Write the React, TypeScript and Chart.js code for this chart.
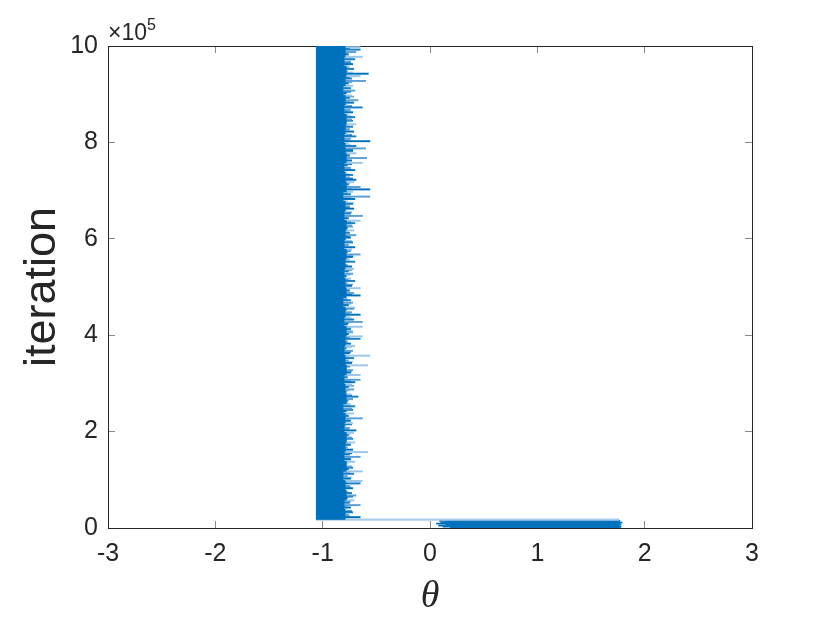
import { useEffect, useRef } from "react";
import { Chart, registerables } from "chart.js";

Chart.register(...registerables);

// ---- axes ----
const X_TICKS = [-3, -2, -1, 0, 1, 2, 3];
const Y_TICKS_E5 = [0, 2, 4, 6, 8, 10]; // ×10^5
const Y_EXPONENT = 5;
const THETA_MIN = -3;
const THETA_MAX = 3;
const ITER_MAX = 1000000;

// ---- upper band (iterations ~18k .. 1e6), theta around -1 ----
const coreLeft = -1.06;
const coreStartIter = 18000;
const coreStep = 20000;
const coreRight = [
  -0.79, -0.8, -0.78, -0.79, -0.81, -0.78, -0.8, -0.79, -0.78, -0.8,
  -0.79, -0.81, -0.78, -0.79, -0.8, -0.78, -0.79, -0.8, -0.79, -0.78,
  -0.8, -0.79, -0.81, -0.78, -0.79, -0.8, -0.79, -0.78, -0.8, -0.79,
  -0.78, -0.8, -0.79, -0.81, -0.78, -0.79, -0.8, -0.78, -0.79, -0.8,
  -0.79, -0.78, -0.8, -0.79, -0.81, -0.79, -0.78, -0.8, -0.79, -0.79,
];

// long excursions to the right
const spikeStartIter = 20000;
const spikeStep = 5000;
const spikeFrom = -0.81;
const spikeRight = [
  -0.65, -0.76, -0.72, -0.78, -0.74, -0.65, -0.75, -0.71, -0.77, -0.69, -0.73, -0.79, -0.72, -0.75,
  -0.65, -0.63, -0.74, -0.77, -0.71, -0.63, -0.76, -0.73, -0.78, -0.7, -0.74, -0.65, -0.75, -0.58,
  -0.72, -0.77, -0.74, -0.7, -0.78, -0.73, -0.76, -0.71, -0.69, -0.75, -0.79, -0.72, -0.74, -0.63,
  -0.76, -0.71, -0.78, -0.73, -0.7, -0.75, -0.77, -0.72, -0.67, -0.74, -0.78, -0.71, -0.76, -0.73,
  -0.7, -0.65, -0.77, -0.65, -0.74, -0.72, -0.78, -0.58, -0.73, -0.76, -0.71, -0.56, -0.75, -0.72,
  -0.78, -0.7, -0.74, -0.77, -0.65, -0.63, -0.76, -0.72, -0.74, -0.63, -0.77, -0.63, -0.71, -0.75,
  -0.65, -0.73, -0.78, -0.7, -0.76, -0.72, -0.74, -0.79, -0.65, -0.71, -0.75, -0.65, -0.73, -0.77,
  -0.7, -0.74, -0.78, -0.72, -0.76, -0.71, -0.73, -0.79, -0.7, -0.75, -0.72, -0.65, -0.77, -0.73,
  -0.7, -0.76, -0.72, -0.78, -0.74, -0.69, -0.75, -0.71, -0.77, -0.73, -0.7, -0.65, -0.76, -0.63,
  -0.74, -0.78, -0.71, -0.75, -0.72, -0.77, -0.7, -0.56, -0.74, -0.72, -0.56, -0.65, -0.76, -0.71,
  -0.69, -0.75, -0.72, -0.78, -0.7, -0.74, -0.77, -0.63, -0.73, -0.59, -0.75, -0.69, -0.72, -0.6,
  -0.69, -0.76, -0.56, -0.74, -0.69, -0.77, -0.71, -0.75, -0.72, -0.69, -0.78, -0.73, -0.7, -0.76,
  -0.72, -0.74, -0.63, -0.77, -0.71, -0.67, -0.75, -0.73, -0.78, -0.7, -0.74, -0.72, -0.76, -0.6,
  -0.73, -0.65, -0.575, -0.77, -0.71, -0.75, -0.72, -0.74, -0.7, -0.63, -0.76, -0.69, -0.65, -0.65,
];

// short fringe between the long excursions
const fringeStartIter = 20000;
const fringeStep = 10000;
const fringeRight = [
  -0.75, -0.73, -0.77, -0.74, -0.72, -0.76, -0.74, -0.78, -0.73, -0.75,
  -0.72, -0.76, -0.74, -0.73, -0.77, -0.75, -0.72, -0.74, -0.76, -0.73,
  -0.75, -0.77, -0.72, -0.74, -0.76, -0.73, -0.75, -0.71, -0.74, -0.77,
  -0.73, -0.75, -0.72, -0.76, -0.74, -0.73, -0.77, -0.75, -0.72, -0.74,
  -0.76, -0.73, -0.75, -0.71, -0.74, -0.77, -0.73, -0.75, -0.72, -0.76,
  -0.74, -0.73, -0.77, -0.75, -0.72, -0.74, -0.76, -0.73, -0.75, -0.77,
  -0.72, -0.74, -0.76, -0.73, -0.75, -0.71, -0.74, -0.77, -0.73, -0.75,
  -0.72, -0.76, -0.74, -0.73, -0.77, -0.75, -0.72, -0.74, -0.76, -0.73,
  -0.75, -0.77, -0.72, -0.74, -0.76, -0.73, -0.75, -0.71, -0.74, -0.77,
  -0.73, -0.75, -0.72, -0.76, -0.74, -0.73, -0.77, -0.75,
];

// ---- jump row (burn-in transition) ----
const jumpIter = 17500;
const jumpFrom = -1.06;
const jumpTo = 1.76;

// ---- lower band (iterations 0 .. ~17k), theta 0.1 .. 1.78 ----
const lowerStartIter = 0;
const lowerStep = 2000;
const lowerLeft = [0.19, 0.12, 0.08, 0.15, 0.06, 0.1, 0.14, 0.09];
const lowerRight = [1.77, 1.78, 1.76, 1.78, 1.77, 1.79, 1.76, 1.77];

const BLUE = "#0072BD";
const SPIKE_COLORS = ["#0072BD", "#5c9fd6", "#1a7fc4", "#9cc5ea"];
const FRINGE_COLORS = ["#6aa8db", "#0f78c0", "#a4cbeb"];
const AXIS = "#262626";
const TICK = "#8a8a8a";
const SANS = "'Liberation Sans', Arial, Helvetica, sans-serif";

function bins(start: number, step: number, lo: number[] | number, hi: number[]) {
  return hi.map((h, i) => ({
    y: start + step / 2 + step * i,
    x: [Array.isArray(lo) ? lo[i] : lo, h],
  }));
}

const exponentPlugin = {
  id: "exponentLabel",
  afterDraw(chart: any) {
    const { ctx, chartArea } = chart;
    ctx.save();
    ctx.fillStyle = AXIS;
    ctx.textBaseline = "alphabetic";
    ctx.textAlign = "left";
    ctx.font = `23px ${SANS}`;
    const base = "\u00d710";
    const x0 = chartArea.left;
    const y0 = chartArea.top - 6;
    ctx.fillText(base, x0, y0);
    const w = ctx.measureText(base).width;
    ctx.font = `16px ${SANS}`;
    ctx.fillText(String(Y_EXPONENT), x0 + w, y0 - 10);
    ctx.restore();
  },
};

export default function App() {
  const ref = useRef<HTMLCanvasElement | null>(null);

  useEffect(() => {
    document.body.style.margin = "0";
    const canvas = ref.current;
    if (!canvas) return;

    const gridInward = (len: number) => ({
      display: true,
      drawOnChartArea: false,
      drawTicks: true,
      offset: false,
      tickLength: -len,
      tickColor: TICK,
      tickWidth: 1,
    });
    const border = { display: true, color: AXIS, width: 1 };

    const chart = new Chart(canvas, {
      type: "bar",
      data: {
        datasets: [
          {
            label: "core",
            data: bins(coreStartIter, coreStep, coreLeft, coreRight) as any,
            backgroundColor: BLUE,
            borderWidth: 0,
            grouped: false,
            barThickness: 10,
          } as any,
          {
            label: "spikes",
            data: bins(spikeStartIter, spikeStep, spikeFrom, spikeRight) as any,
            backgroundColor: (c: any) => SPIKE_COLORS[c.dataIndex % SPIKE_COLORS.length],
            borderWidth: 0,
            grouped: false,
            barThickness: 1.3,
          } as any,
          {
            label: "fringe",
            data: bins(fringeStartIter, fringeStep, spikeFrom, fringeRight) as any,
            backgroundColor: (c: any) => FRINGE_COLORS[c.dataIndex % FRINGE_COLORS.length],
            borderWidth: 0,
            grouped: false,
            barThickness: 1.1,
          } as any,
          {
            label: "jump",
            data: [{ y: jumpIter, x: [jumpFrom, jumpTo] }] as any,
            backgroundColor: "#a9cdec",
            borderWidth: 0,
            grouped: false,
            barThickness: 1.6,
          } as any,
          {
            label: "burn-in",
            data: bins(lowerStartIter, lowerStep, lowerLeft, lowerRight) as any,
            backgroundColor: BLUE,
            borderWidth: 0,
            grouped: false,
            barThickness: 1.1,
          } as any,
        ],
      },
      options: {
        indexAxis: "y",
        responsive: false,
        animation: false,
        events: [],
        layout: { padding: { left: 0, right: 78, top: 46, bottom: 0 } },
        plugins: { legend: { display: false }, tooltip: { enabled: false } },
        scales: {
          x: {
            type: "linear",
            position: "bottom",
            min: THETA_MIN,
            max: THETA_MAX,
            offset: false,
            afterBuildTicks: (s: any) => {
              s.ticks = X_TICKS.map((v) => ({ value: v }));
            },
            afterFit: (s: any) => {
              s.height = 95;
            },
            grid: gridInward(7),
            border,
            ticks: {
              color: AXIS,
              font: { family: SANS, size: 25 },
              padding: 18,
              maxRotation: 0,
              callback: (v: any) => String(v),
            },
            title: {
              display: true,
              text: "\u03b8",
              color: AXIS,
              font: { family: "'Liberation Serif', 'DejaVu Serif', serif", size: 38, style: "italic", lineHeight: 1 },
              padding: { top: 0, bottom: 7 },
            },
          },
          y: {
            type: "linear",
            position: "left",
            min: 0,
            max: ITER_MAX,
            offset: false,
            afterBuildTicks: (s: any) => {
              s.ticks = Y_TICKS_E5.map((v) => ({ value: v * Math.pow(10, Y_EXPONENT) }));
            },
            afterFit: (s: any) => {
              s.width = 108;
            },
            grid: gridInward(7),
            border,
            ticks: {
              color: AXIS,
              font: { family: SANS, size: 25 },
              padding: 17,
              callback: (v: any) => String(Math.round(Number(v) / Math.pow(10, Y_EXPONENT))),
            },
            title: {
              display: true,
              text: "iteration",
              color: AXIS,
              font: { family: SANS, size: 45, lineHeight: 1 },
              padding: { top: 20, bottom: 0 },
            },
          },
          x2: {
            type: "linear",
            position: "top",
            min: THETA_MIN,
            max: THETA_MAX,
            offset: false,
            afterBuildTicks: (s: any) => {
              s.ticks = X_TICKS.map((v) => ({ value: v }));
            },
            afterFit: (s: any) => {
              s.height = 0;
            },
            grid: gridInward(7),
            border,
            ticks: { display: false },
          },
          y2: {
            type: "linear",
            position: "right",
            min: 0,
            max: ITER_MAX,
            offset: false,
            afterBuildTicks: (s: any) => {
              s.ticks = Y_TICKS_E5.map((v) => ({ value: v * Math.pow(10, Y_EXPONENT) }));
            },
            afterFit: (s: any) => {
              s.width = 0;
            },
            grid: gridInward(7),
            border,
            ticks: { display: false },
          },
        } as any,
      },
      plugins: [exponentPlugin],
    });

    return () => chart.destroy();
  }, []);

  return (
    <div style={{ position: "fixed", left: 0, top: 0, width: 830, height: 623, background: "#fff" }}>
      <canvas ref={ref} width={830} height={623} style={{ display: "block" }} />
    </div>
  );
}
